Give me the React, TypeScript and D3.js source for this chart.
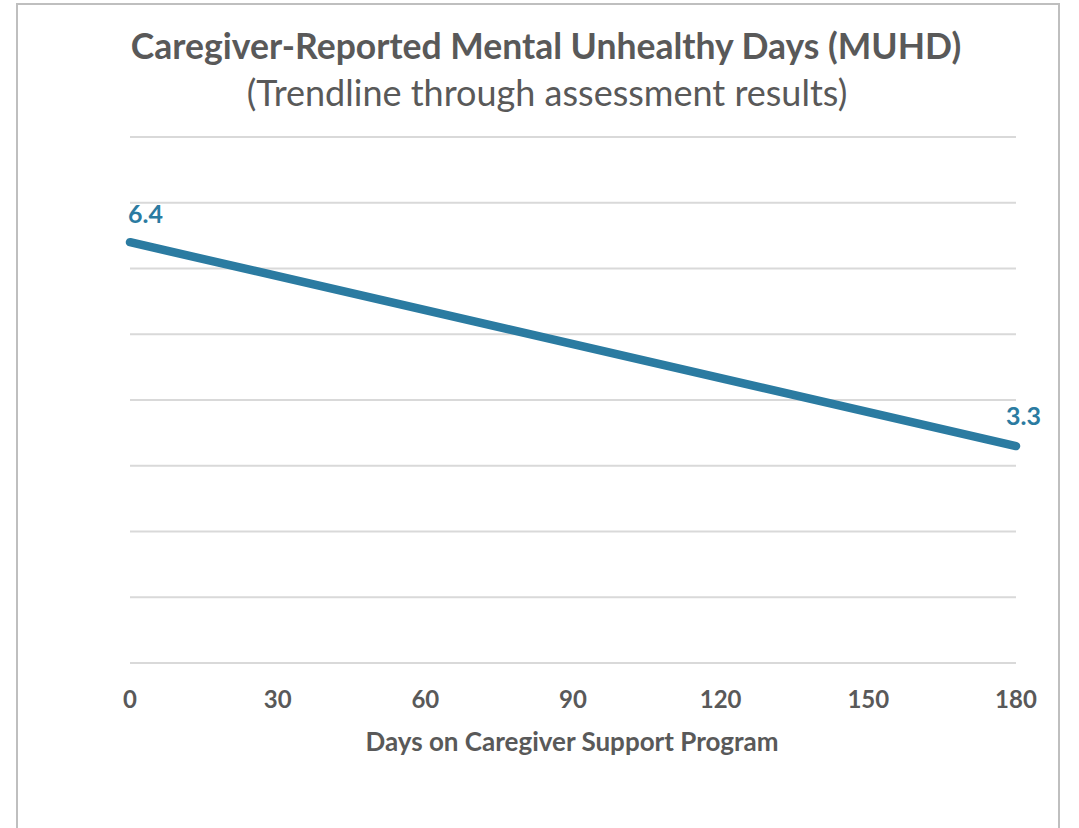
import React from "react";
import { scaleLinear, line, range } from "d3";

// chart data
const days = [0, 180];
const muhd = [6.4, 3.3];
const xTicks = [0, 30, 60, 90, 120, 150, 180];
const yGrid = range(0, 9); // 0..8, no labels shown

const title = "Caregiver-Reported Mental Unhealthy Days (MUHD)";
const subtitle = "(Trendline through assessment results)";
const xAxisTitle = "Days on Caregiver Support Program";

const W = 1079;
const H = 828;
const FONT = "Lato, 'Open Sans', sans-serif";
const GRAY = "#595959";
const BLUE = "#2b7ba1";

const App = () => {
  const xScale = scaleLinear().domain([0, 180]).range([130, 1016]);
  const yScale = scaleLinear().domain([0, 8]).range([663, 137]);

  const trend = line<number>()
    .x((d, i) => xScale(days[i]))
    .y(d => yScale(d));

  return (
    <svg
      width={W}
      height={H}
      style={{ position: "absolute", left: 0, top: 0, background: "#fff" }}
    >
      {/* outer frame */}
      <rect x={17} y={4} width={1042} height={840} fill="none" stroke="#bfbfbf" strokeWidth={2} />

      <text x={546} y={59} textAnchor="middle" fontFamily={FONT} fontWeight="bold" fontSize={35.5} fill={GRAY}>
        {title}
      </text>
      <text x={547} y={106} textAnchor="middle" fontFamily={FONT} fontSize={36} fill={GRAY}>
        {subtitle}
      </text>

      {/* gridlines */}
      <g>
        {yGrid.map(v => (
          <line key={v} x1={xScale(0)} x2={xScale(180)} y1={yScale(v)} y2={yScale(v)} stroke="#d9d9d9" strokeWidth={2} />
        ))}
      </g>

      {/* x tick labels */}
      <g fontFamily={FONT} fontWeight="bold" fontSize={24} fill={GRAY} textAnchor="middle">
        {xTicks.map(t => (
          <text key={t} x={xScale(t)} y={708}>
            {t}
          </text>
        ))}
      </g>
      <text x={572} y={751} textAnchor="middle" fontFamily={FONT} fontWeight="bold" fontSize={26} fill={GRAY}>
        {xAxisTitle}
      </text>

      {/* trendline */}
      <path d={trend(muhd) || ""} fill="none" stroke={BLUE} strokeWidth={8.5} strokeLinecap="round" />

      {/* data labels */}
      <g fontFamily={FONT} fontWeight="bold" fontSize={25} fill={BLUE}>
        <text x={xScale(days[0]) - 2} y={yScale(muhd[0]) - 19}>
          {muhd[0].toFixed(1)}
        </text>
        <text x={xScale(days[1]) - 10} y={yScale(muhd[1]) - 21}>
          {muhd[1].toFixed(1)}
        </text>
      </g>
    </svg>
  );
};

export default App;
